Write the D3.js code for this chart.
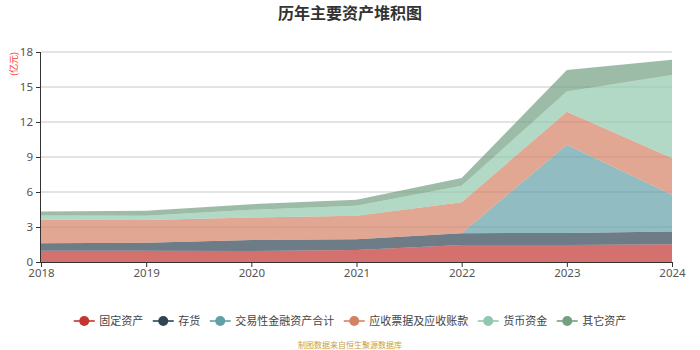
<!DOCTYPE html>
<html><head><meta charset="utf-8">
<script src="https://cdn.jsdelivr.net/npm/d3@7"></script>
<style>body{margin:0;background:#fff;}svg{display:block;font-family:"Noto Sans CJK SC","Noto Sans",sans-serif;}</style>
</head><body><svg id="c" width="700" height="350"></svg>
<script>
const years = ["2018","2019","2020","2021","2022","2023","2024"];
const seriesNames = ["固定资产","存货","交易性金融资产合计","应收票据及应收账款","货币资金","其它资产"];
const fixedAssets = [0.97,0.97,0.95,1.03,1.46,1.46,1.52];
const inventory = [0.63,0.69,0.94,0.92,1.01,1.03,1.09];
const tradingAssets = [0,0,0,0,0,7.57,3.15];
const receivables = [2.03,1.94,1.92,2.01,2.66,2.81,3.16];
const cash = [0.35,0.37,0.66,0.86,1.40,1.75,7.10];
const otherAssets = [0.34,0.43,0.49,0.51,0.67,1.83,1.32];
const yTicks = [0,3,6,9,12,15,18];
const colors = ["#c23531","#2f4554","#61a0a8","#d48265","#91c7ae","#749f83"];

const seriesVals = [fixedAssets,inventory,tradingAssets,receivables,cash,otherAssets];
const rows = years.map((y,i)=>{const o={year:y};seriesNames.forEach((n,k)=>o[n]=seriesVals[k][i]);return o;});

const svg = d3.select("#c");
const L=41,R=672,T=52,B=262;
const x = d3.scalePoint().domain(years).range([L,R]);
const y = d3.scaleLinear().domain([0,18]).range([B,T]);

svg.append("text").attr("x",350).attr("y",19).attr("text-anchor","middle")
  .attr("font-size",16).attr("font-weight","bold").attr("fill","#333").text("历年主要资产堆积图");

// grid
svg.append("g").selectAll("line").data(yTicks.filter(d=>d>0)).join("line")
  .attr("x1",L).attr("x2",R).attr("y1",d=>y(d)).attr("y2",d=>y(d))
  .attr("stroke","#e3e3e3").attr("stroke-width",2);

const stack = d3.stack().keys(seriesNames)(rows);
const area = d3.area().x(d=>x(d.data.year)).y0(d=>y(d[0])).y1(d=>y(d[1]));
svg.append("g").selectAll("path").data(stack).join("path")
  .attr("d",area).attr("fill",(d,i)=>colors[i]).attr("fill-opacity",0.7);

// axes
const ya = svg.append("g").attr("transform",`translate(${L},0)`)
  .call(d3.axisLeft(y).tickValues(yTicks).tickSize(5).tickPadding(3));
ya.select(".domain").attr("stroke","#333").attr("d",`M-0.5,${T}V${B}`);
ya.selectAll(".tick line").attr("stroke","#333");
ya.selectAll("text").attr("font-size",11.5).attr("fill","#555").attr("font-family","Noto Sans, sans-serif");

const xa = svg.append("g").attr("transform",`translate(0,${B})`)
  .call(d3.axisBottom(x).tickSize(5).tickPadding(2));
xa.select(".domain").attr("stroke","#333").attr("d",`M${L},0.5H${R}`);
xa.selectAll(".tick line").attr("stroke","#333");
xa.selectAll("text").attr("font-size",11.5).attr("fill","#555").attr("font-family","Noto Sans, sans-serif");

svg.append("text").attr("transform","translate(17,64) rotate(-90)").attr("text-anchor","middle")
  .attr("font-size",9).attr("fill","#ff3333").text("(亿元)");

// legend
const lg = svg.append("g");
let cx = 0;
const items = [];
seriesNames.forEach((n,i)=>{
  const g = lg.append("g");
  g.append("line").attr("x1",-10.5).attr("x2",10.5).attr("y1",0).attr("y2",0).attr("stroke",colors[i]).attr("stroke-width",1.6);
  g.append("circle").attr("r",5).attr("fill",colors[i]);
  const t = g.append("text").attr("x",15).attr("y",4).attr("font-size",11).attr("fill","#444").text(n);
  const w = t.node().getComputedTextLength();
  items.push({g,cx});
  cx += 15 + w + 20;
});
const total = cx - 20 + 10.5;
const off = 350 - total/2 + 10.5;
items.forEach(it=>it.g.attr("transform",`translate(${off+it.cx},321)`));

svg.append("text").attr("x",350).attr("y",348).attr("text-anchor","middle")
  .attr("font-size",8).attr("fill","#c9a040").text("制图数据来自恒生聚源数据库");
</script></body></html>
